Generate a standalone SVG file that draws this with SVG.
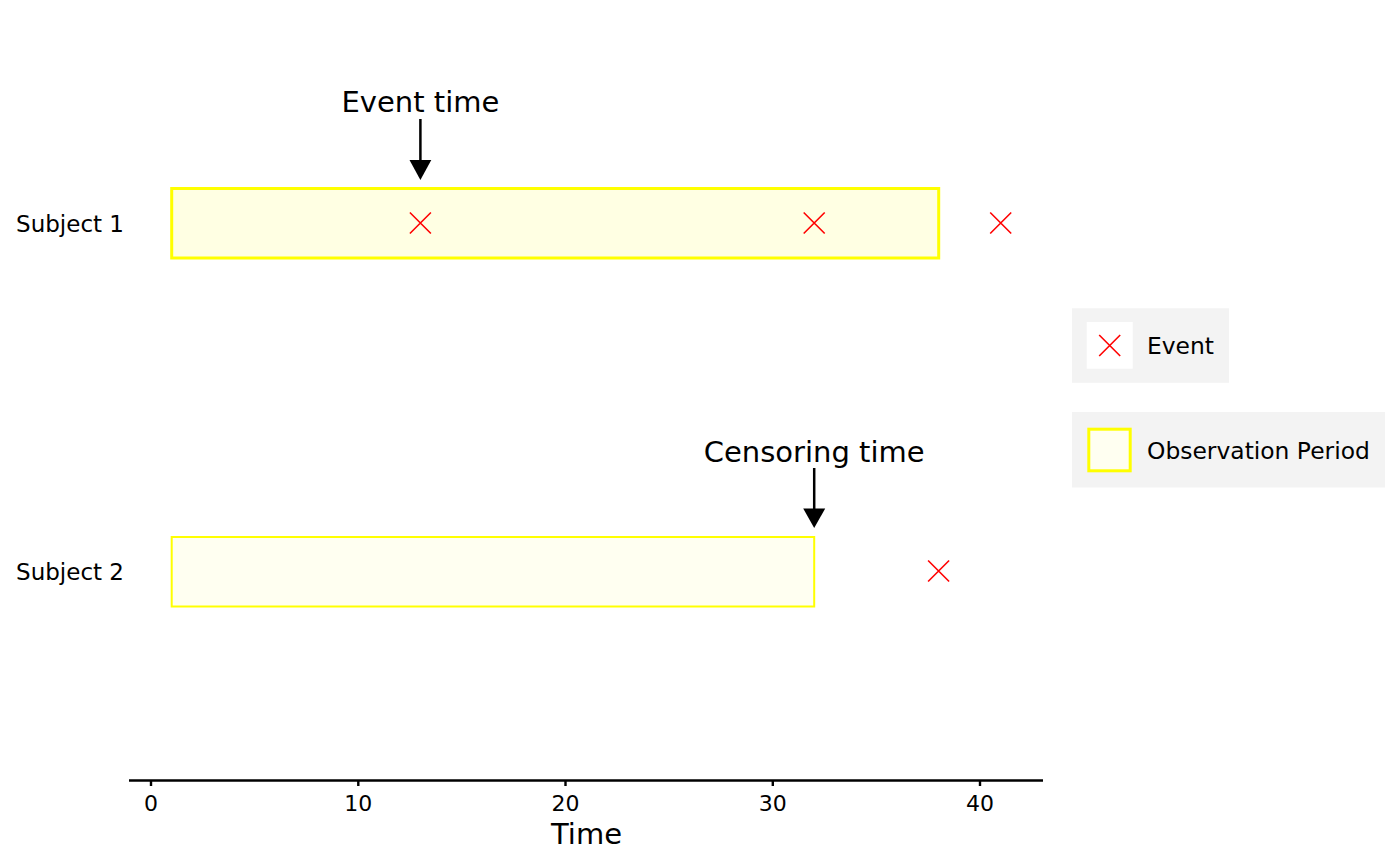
<svg xmlns="http://www.w3.org/2000/svg" width="1400" height="865" viewBox="0 0 1400 865">
<defs>
<style>
text{font-family:"DejaVu Sans","Liberation Sans",sans-serif;fill:#000}
.lab{font-size:23px;text-anchor:end}
.tick{font-size:22px;text-anchor:middle}
.ann{font-size:29px;text-anchor:middle}
.leg{font-size:23.4px}
.x{stroke:#ff0000;stroke-width:1.6;fill:none}
.arr{stroke:#000;stroke-width:2.5;fill:none}
.obs{stroke:#ffff00}
</style>
<symbol id="cross" overflow="visible"><path class="x" d="M-10.5,-10.5L10.5,10.5M-10.5,10.5L10.5,-10.5"/></symbol>
</defs>
<rect width="1400" height="865" fill="#fff"/>
<g id="subject1">
<rect class="obs" x="171.7" y="188.5" width="767" height="69.5" fill="#ffffe3" stroke-width="3"/>
<text class="lab" x="124" y="232">Subject 1</text>
<use href="#cross" x="420.4" y="223"/>
<use href="#cross" x="814.2" y="223"/>
<use href="#cross" x="1000.7" y="223"/>
</g>
<g id="subject2">
<rect class="obs" x="171.7" y="537" width="642.5" height="69.5" fill="#fffff1" stroke-width="2"/>
<text class="lab" x="124" y="580">Subject 2</text>
<use href="#cross" x="938.6" y="571"/>
</g>
<g id="event-annotation">
<text class="ann" x="420.4" y="112">Event time</text>
</g>
<g id="censor-annotation">
<text class="ann" x="814.2" y="462">Censoring time</text>
</g>
<g id="connectors">
<line class="arr" x1="420.4" y1="119" x2="420.4" y2="162"/>
<polygon points="409.5,160 431.3,160 420.4,180" fill="#000"/>
<line class="arr" x1="814.2" y1="468" x2="814.2" y2="510"/>
<polygon points="803.2,508.5 825.2,508.5 814.2,528" fill="#000"/>
</g>
<g id="x-axis">
<line x1="129" y1="780.5" x2="1043" y2="780.5" stroke="#000" stroke-width="2.4"/>
<path d="M151,781V786M358.3,781V786M565.5,781V786M772.8,781V786M980,781V786" stroke="#000" stroke-width="2.4"/>
<text class="tick" x="151" y="810.5">0</text>
<text class="tick" x="358.3" y="810.5">10</text>
<text class="tick" x="565.5" y="810.5">20</text>
<text class="tick" x="772.8" y="810.5">30</text>
<text class="tick" x="980" y="810.5">40</text>
<text class="ann" x="586.5" y="844">Time</text>
</g>
<g id="legend-event">
<rect x="1072" y="308.3" width="157" height="74.5" fill="#f3f3f3"/>
<rect x="1086.7" y="322" width="46" height="46.7" fill="#fff"/>
<use href="#cross" x="1109.7" y="345.5"/>
<text class="leg" x="1147" y="354">Event</text>
</g>
<g id="legend-observation">
<rect x="1072" y="412" width="313" height="75.5" fill="#f3f3f3"/>
<rect class="obs" x="1088.8" y="429.2" width="41.4" height="41.6" fill="#fffff1" stroke-width="3"/>
<text class="leg" x="1147" y="458.5">Observation Period</text>
</g>
</svg>
